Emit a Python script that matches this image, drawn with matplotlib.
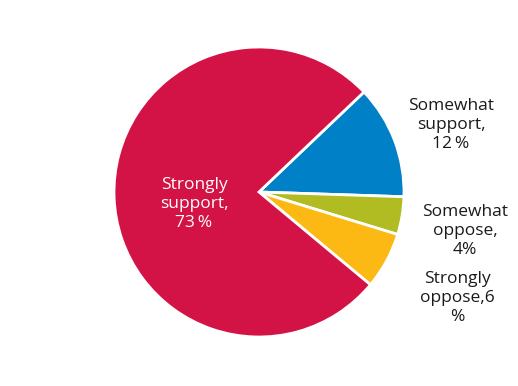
import matplotlib.pyplot as plt

# -----------------------------
# Data
# -----------------------------

categories = ["Somewhat support", "Somewhat oppose", "Strongly oppose", "Strongly support"]
values = [12, 4, 6, 73]
colors = ["#0080C6", "#B0BC22", "#FDB913", "#D31245"]

label_texts = [
    "Somewhat\nsupport,\n12\u2009%",
    "Somewhat\noppose,\n4%",
    "Strongly\noppose,6\n%",
    "Strongly\nsupport,\n73\u2009%",
]

# -----------------------------
# Figure (axes in pixel units)
# -----------------------------

W, H = 518, 386
fig = plt.figure(figsize=(W / 100, H / 100), dpi=100)
ax = fig.add_axes([0, 0, 1, 1])

ax.pie(
    values,
    colors=colors,
    startangle=43.6,
    counterclock=False,
    center=(259, H - 192),
    radius=145,
    wedgeprops=dict(edgecolor="white", linewidth=2),
    frame=True,
)
ax.set_xlim(0, W)
ax.set_ylim(0, H)
ax.set_aspect("equal")
ax.axis("off")

# label positions (x, y from top) and colours
label_pos = [(451, 125), (465, 231), (457, 298), (194, 204)]
label_colors = ["#1a1a1a", "#1a1a1a", "#1a1a1a", "white"]

for text, (x, y), c in zip(label_texts, label_pos, label_colors):
    ax.text(x, H - y, text, ha="center", va="center", fontsize=12.5,
            color=c, family="Open Sans", linespacing=1.28)

fig.savefig("out.png", dpi=100)
